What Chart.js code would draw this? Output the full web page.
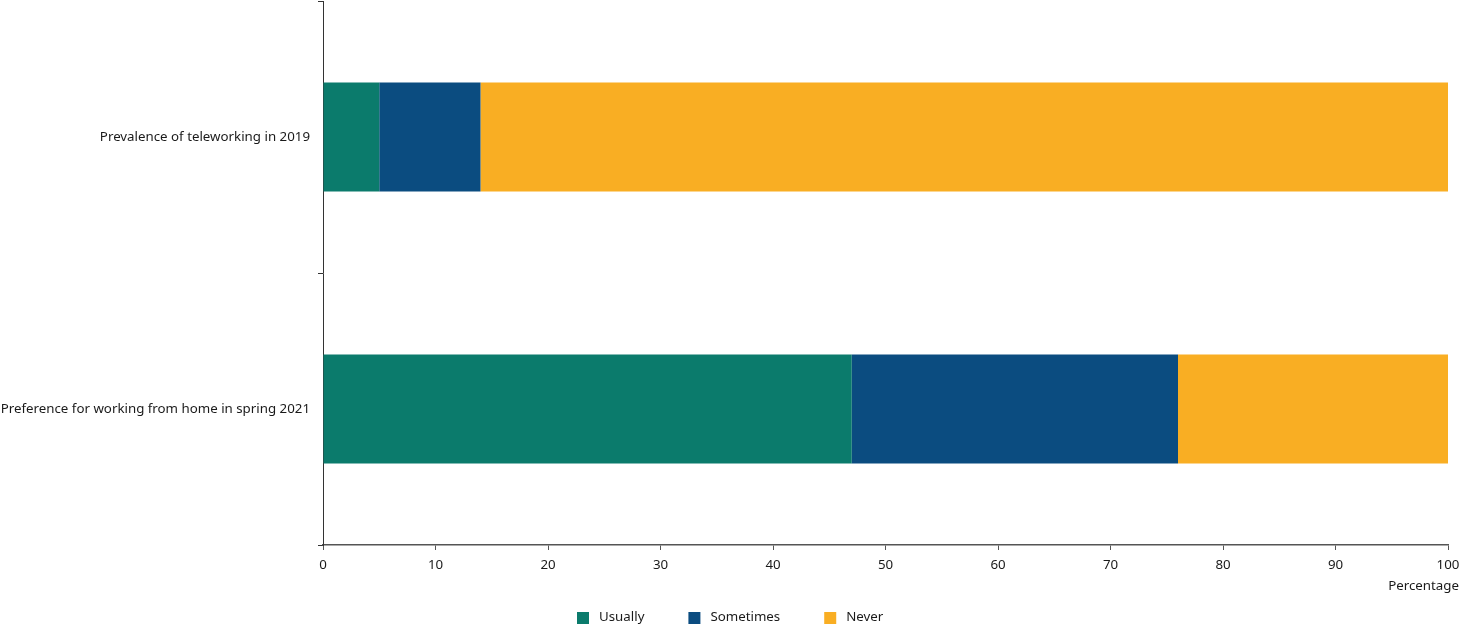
<!DOCTYPE html>
<html><head><meta charset="utf-8">
<script src="https://cdn.jsdelivr.net/npm/chart.js@4/dist/chart.umd.min.js"></script>
<style>html,body{margin:0;padding:0;background:#fff}#wrap{width:1460px;height:626px}</style>
</head><body><div id="wrap"><canvas id="c" width="1460" height="626"></canvas></div>
<script>
const categories = ["Prevalence of teleworking in 2019", "Preference for working from home in spring 2021"];
const usually = [5, 47];
const sometimes = [9, 29];
const never = [86, 24];
const seriesNames = ["Usually", "Sometimes", "Never"];
const colors = ["#0b7b6c", "#0b4c80", "#f9ae23"];
const xTicks = [0,10,20,30,40,50,60,70,80,90,100];
const xTitle = "Percentage";

const FONT = "'Noto Sans', 'Open Sans', sans-serif";
const FSIZE = 13.3;
Chart.defaults.font.family = FONT;
Chart.defaults.font.size = FSIZE;
Chart.defaults.color = "#1a1a1a";

const customText = {
  id: 'customText',
  afterDraw(chart) {
    const ctx = chart.ctx;
    ctx.save();
    ctx.font = FSIZE + "px " + FONT;
    ctx.fillStyle = "#1a1a1a";
    ctx.textBaseline = 'middle';
    // axis title
    ctx.textAlign = 'right';
    ctx.fillText(xTitle, chart.width - 1, 586);
    // legend
    ctx.textAlign = 'left';
    const box = 12, gapText = 10, gapItem = 44;
    const widths = seriesNames.map(n => ctx.measureText(n).width);
    let total = 0;
    widths.forEach((w, i) => { total += box + gapText + w + (i < widths.length - 1 ? gapItem : 0); });
    let x = Math.round(chart.width / 2 - total / 2);
    const cy = 618;
    seriesNames.forEach((n, i) => {
      ctx.fillStyle = colors[i];
      ctx.fillRect(x, cy - box / 2, box, box);
      ctx.fillStyle = "#1a1a1a";
      ctx.fillText(n, x + box + gapText, cy - 1);
      x += box + gapText + widths[i] + gapItem;
    });
    ctx.restore();
  }
};

new Chart(document.getElementById('c'), {
  type: 'bar',
  data: {
    labels: categories,
    datasets: [usually, sometimes, never].map((d,i)=>({
      label: seriesNames[i], data: d, backgroundColor: colors[i],
      barPercentage: 0.4, categoryPercentage: 1.0, borderWidth: 0
    }))
  },
  options: {
    indexAxis: 'y', responsive: false, animation: false,
    layout: { padding: { top: 1, right: 12, left: 0, bottom: 51 } },
    scales: {
      x: {
        stacked: true, min: 0, max: 100,
        afterBuildTicks: s => { s.ticks = xTicks.map(v=>({value:v})); },
        grid: { drawOnChartArea: false, drawTicks: true, tickLength: 5, color: "#555" },
        border: { color: "#555", width: 1.5 },
        ticks: { padding: 7, color: "#1a1a1a", maxRotation: 0 },
        afterFit: s => { s.paddingLeft = 0; s.paddingRight = 0; s.height = 30; }
      },
      y: {
        stacked: true,
        grid: { drawOnChartArea: false, drawTicks: true, tickLength: 5, color: "#333", offset: true },
        border: { color: "#333", width: 1 },
        ticks: { padding: 8, color: "#1a1a1a" },
        afterFit: s => { s.width = 323; s.paddingTop = 0; s.paddingBottom = 0; }
      }
    },
    plugins: {
      legend: { display: false },
      tooltip: { enabled: false }
    }
  },
  plugins: [customText]
});
</script></body></html>
